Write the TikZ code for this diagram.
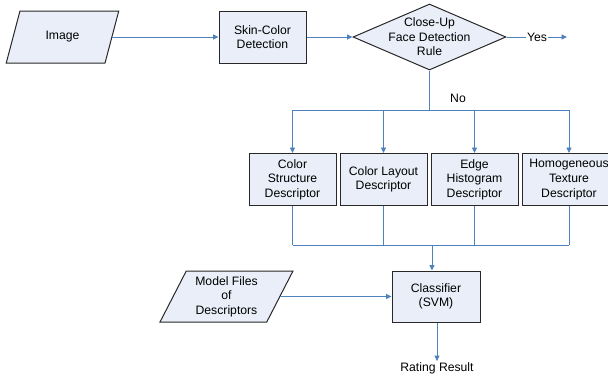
\documentclass[tikz,border=0pt]{standalone}
\usepackage{fontspec}
\setmainfont{Liberation Sans}
\usetikzlibrary{shapes.geometric,arrows.meta}
\definecolor{flujo}{RGB}{79,129,189}
\definecolor{relleno}{RGB}{233,238,248}
\definecolor{borde}{RGB}{40,40,40}
\begin{document}
\begin{tikzpicture}[x=1pt, y=-1pt, font=\fontsize{12.2}{14.6}\selectfont,
  caja/.style={draw=borde, fill=relleno, line width=1pt, align=center, inner sep=0pt},
  bloque/.style={caja, rectangle, minimum width=87pt, minimum height=52pt},
  datos/.style={caja, trapezium, trapezium left angle=63.4, trapezium right angle=116.6,
    trapezium stretches=true, minimum height=52pt},
  rotulo/.style={inner sep=1pt},
  linea/.style={draw=flujo, line width=0.9pt},
  flecha/.style={linea, -{Triangle[length=5.5pt,width=5pt]}}]
  \useasboundingbox (0,0) rectangle (608,378);
  % la entrada y la deteccion
  \node[datos, minimum width=113pt] (imagen) at (62.5,37) {Image};
  \node[bloque] (piel) at (262.5,37) {Skin-Color\\Detection};
  \node[caja, diamond, minimum width=153pt, minimum height=66pt,
    label={[align=center]center:Close-Up\\Face Detection\\Rule}] (regla) at (429.5,37) {};
  \node[rotulo] (si) at (537,37) {Yes};
  \coordinate (salida) at (567,37);
  \draw[flecha] (imagen.right side) -- (piel.west);
  \draw[flecha] (piel.east) -- (regla.west);
  \draw[linea] (regla.east) -- (si.west);
  \draw[flecha] (si.east) -- (salida);
  % los descriptores
  \node[rotulo] (no) at (458,98) {No};
  \coordinate (reparto) at (429.5,110);
  \coordinate (junta) at (432,245);
  \node[bloque] (cs) at (292.5,179.5) {Color\\Structure\\Descriptor};
  \node[bloque] (cl) at (383.5,179.5) {Color Layout\\Descriptor};
  \node[bloque] (eh) at (474.5,179.5) {Edge\\Histogram\\Descriptor};
  \node[bloque, minimum width=94pt] (ht) at (569,179.5) {Homogeneous\\Texture\\Descriptor};
  \draw[linea] (regla.south) -- (reparto);
  \draw[linea] (cs.north |- reparto) -- (ht.north |- reparto);
  \draw[linea] (cs.south |- junta) -- (ht.south |- junta);
  \foreach \d in {cs,cl,eh,ht} {
    \draw[flecha] (\d.north |- reparto) -- (\d.north);
    \draw[linea] (\d.south) -- (\d.south |- junta);
  }
  % el clasificador
  \node[datos, minimum width=133pt, minimum height=51pt] (modelo) at (226.5,296.5) {Model Files\\of\\Descriptors};
  \node[bloque, minimum width=88pt, minimum height=51pt] (clasif) at (436,296.5) {Classifier\\(SVM)};
  \node[rotulo] (resultado) at (437,368) {Rating Result};
  \draw[flecha] (junta) -- (junta |- clasif.north);
  \draw[flecha] (modelo.right side) -- (clasif.west);
  \draw[flecha] (clasif.south -| resultado) -- (resultado.north);
\end{tikzpicture}
\end{document}
